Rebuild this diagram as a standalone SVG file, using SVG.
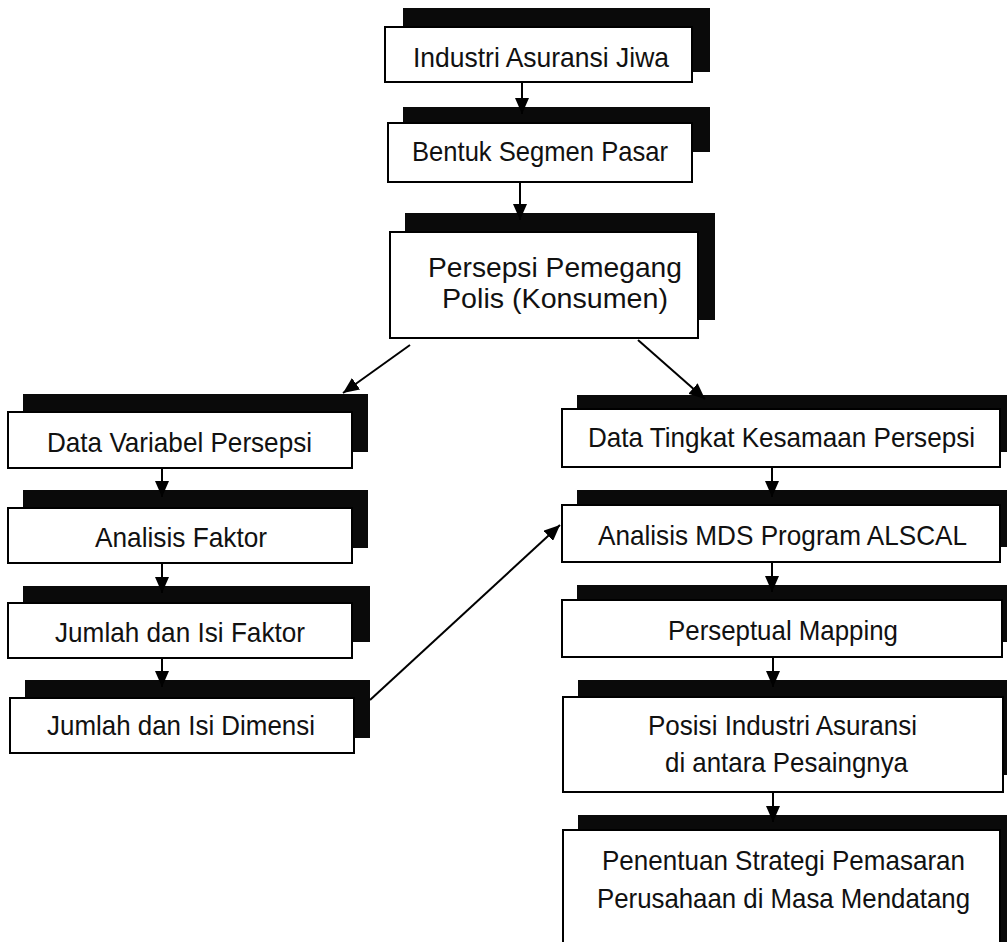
<svg xmlns="http://www.w3.org/2000/svg" width="1007" height="942" viewBox="0 0 1007 942">
<style>
.sh{fill:#0a0a0a}
.bx{fill:#fff;stroke:#000;stroke-width:2}
.t{font-family:"Liberation Sans",Arial,sans-serif;font-size:28px;fill:#111}
.cn{stroke:#000;stroke-width:2;fill:none;marker-end:url(#ah)}
</style>
<defs>
<marker id="ah" markerUnits="userSpaceOnUse" markerWidth="18" markerHeight="14" refX="16" refY="7" orient="auto">
<path d="M0,0 L16,7 L0,14 Z" fill="#000"/>
</marker>
</defs>
<rect width="1007" height="942" fill="#fff"/>
<g id="n1">
<rect class="sh" x="403" y="8" width="307" height="64"/>
<rect class="bx" x="385" y="27" width="307" height="55"/>
<text class="t" x="413" y="67" textLength="256" lengthAdjust="spacingAndGlyphs">Industri Asuransi Jiwa</text>
</g>
<g id="n2">
<rect class="sh" x="403" y="107" width="307" height="45"/>
<rect class="bx" x="388" y="123" width="304" height="59"/>
<text class="t" x="412" y="161" textLength="256" lengthAdjust="spacingAndGlyphs">Bentuk Segmen Pasar</text>
</g>
<g id="n3">
<rect class="sh" x="405" y="213" width="310" height="107"/>
<rect class="bx" x="390" y="232" width="308" height="106"/>
<text class="t" x="428" y="277" textLength="254" lengthAdjust="spacingAndGlyphs">Persepsi Pemegang</text>
<text class="t" x="442" y="308" textLength="226" lengthAdjust="spacingAndGlyphs">Polis (Konsumen)</text>
</g>
<g id="n4">
<rect class="sh" x="23" y="394" width="345" height="58"/>
<rect class="bx" x="8" y="412" width="344" height="56"/>
<text class="t" x="47" y="452" textLength="265" lengthAdjust="spacingAndGlyphs">Data Variabel Persepsi</text>
</g>
<g id="n5">
<rect class="sh" x="23" y="490" width="345" height="58"/>
<rect class="bx" x="8" y="508" width="344" height="55"/>
<text class="t" x="95" y="547" textLength="172" lengthAdjust="spacingAndGlyphs">Analisis Faktor</text>
</g>
<g id="n6">
<rect class="sh" x="23" y="586" width="347" height="56"/>
<rect class="bx" x="8" y="603" width="344" height="55"/>
<text class="t" x="55" y="642" textLength="250" lengthAdjust="spacingAndGlyphs">Jumlah dan Isi Faktor</text>
</g>
<g id="n7">
<rect class="sh" x="25" y="680" width="345" height="58"/>
<rect class="bx" x="10" y="698" width="344" height="55"/>
<text class="t" x="47" y="735" textLength="268" lengthAdjust="spacingAndGlyphs">Jumlah dan Isi Dimensi</text>
</g>
<g id="n8">
<rect class="sh" x="577" y="395" width="440" height="57"/>
<rect class="bx" x="562" y="409" width="438" height="58"/>
<text class="t" x="588" y="447" textLength="387" lengthAdjust="spacingAndGlyphs">Data Tingkat Kesamaan Persepsi</text>
</g>
<g id="n9">
<rect class="sh" x="577" y="490" width="440" height="57"/>
<rect class="bx" x="562" y="505" width="438" height="57"/>
<text class="t" x="598" y="545" textLength="369" lengthAdjust="spacingAndGlyphs">Analisis MDS Program ALSCAL</text>
</g>
<g id="n10">
<rect class="sh" x="577" y="585" width="440" height="57"/>
<rect class="bx" x="562" y="600" width="440" height="57"/>
<text class="t" x="668" y="640" textLength="230" lengthAdjust="spacingAndGlyphs">Perseptual Mapping</text>
</g>
<g id="n11">
<rect class="sh" x="578" y="680" width="440" height="95"/>
<rect class="bx" x="563" y="697" width="440" height="95"/>
<text class="t" x="648" y="735" textLength="269" lengthAdjust="spacingAndGlyphs">Posisi Industri Asuransi</text>
<text class="t" x="665" y="772" textLength="243" lengthAdjust="spacingAndGlyphs">di antara Pesaingnya</text>
</g>
<g id="n12">
<rect class="sh" x="578" y="815" width="440" height="140"/>
<rect class="bx" x="563" y="830" width="437" height="130"/>
<text class="t" x="602" y="870" textLength="363" lengthAdjust="spacingAndGlyphs">Penentuan Strategi Pemasaran</text>
<text class="t" x="597" y="908" textLength="373" lengthAdjust="spacingAndGlyphs">Perusahaan di Masa Mendatang</text>
</g>
<g id="connectors">
<line class="cn" x1="522" y1="83" x2="522" y2="114"/>
<line class="cn" x1="520" y1="183" x2="520" y2="220"/>
<line class="cn" x1="410" y1="345" x2="343" y2="393"/>
<line class="cn" x1="638" y1="340" x2="705" y2="399"/>
<line class="cn" x1="162" y1="469" x2="162" y2="497"/>
<line class="cn" x1="162" y1="564" x2="162" y2="593"/>
<line class="cn" x1="162" y1="659" x2="162" y2="687"/>
<line class="cn" x1="370" y1="700" x2="560" y2="525"/>
<line class="cn" x1="772" y1="468" x2="772" y2="497"/>
<line class="cn" x1="772" y1="563" x2="772" y2="592"/>
<line class="cn" x1="773" y1="658" x2="773" y2="687"/>
<line class="cn" x1="773" y1="793" x2="773" y2="822"/>
</g>
</svg>
